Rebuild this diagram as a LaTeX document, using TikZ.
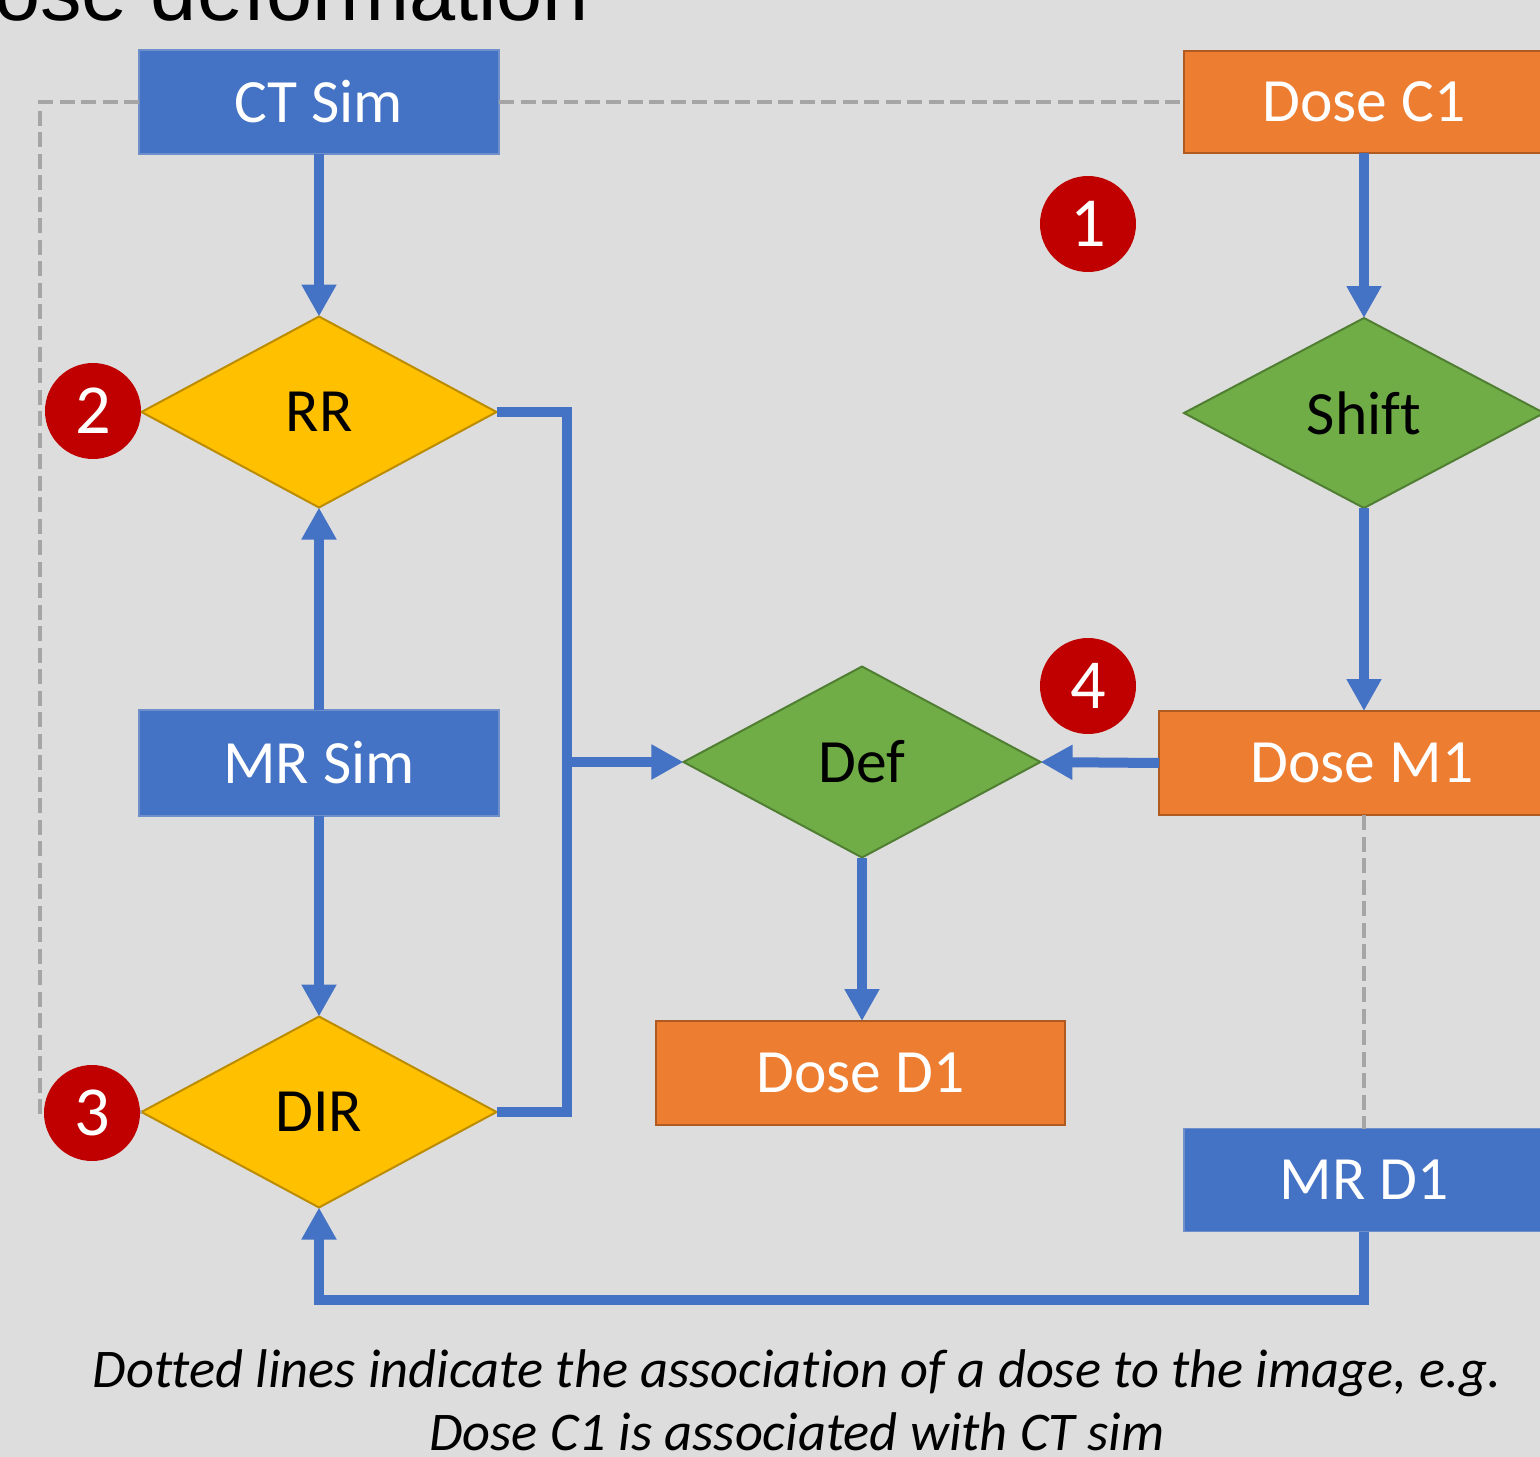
\documentclass[tikz,border=0pt]{standalone}
\usepackage{fontspec}
\setmainfont{Carlito}[Ligatures=NoCommon]
\newfontfamily\titlefont{Liberation Sans}
\usetikzlibrary{shapes.geometric,arrows.meta}
\definecolor{paper}{HTML}{DDDDDD}
\definecolor{imgblue}{HTML}{4472C4}
\definecolor{imgedge}{HTML}{6F8FCB}
\definecolor{doseorange}{HTML}{ED7D31}
\definecolor{doseedge}{HTML}{AE5A21}
\definecolor{stepgreen}{HTML}{70AD47}
\definecolor{greenedge}{HTML}{507E32}
\definecolor{regyellow}{HTML}{FFC000}
\definecolor{yellowedge}{HTML}{BC8C00}
\definecolor{badgered}{HTML}{C00000}
\definecolor{assocgray}{HTML}{A5A5A5}
\newcommand\lblfont{\fontsize{17.5}{21}\selectfont}
\begin{document}
\begin{tikzpicture}[
           image/.style={rectangle, fill=imgblue, draw=imgedge, line width=0.015cm, inner sep=0pt, outer sep=0pt, text=white, font=\lblfont},
           dose/.style={rectangle, fill=doseorange, draw=doseedge, line width=0.02cm, inner sep=0pt, outer sep=0pt, text=white, font=\lblfont},
           decide/.style={diamond, line width=0.02cm, inner sep=0pt, outer sep=0pt, minimum width=3.55cm, minimum height=1.91cm, font=\lblfont},
           badge/.style={circle, fill=badgered, inner sep=0pt, minimum size=0.96cm, text=white, font=\fontsize{20}{24}\selectfont},
           flow/.style={imgblue, line width=0.10cm, line join=miter, -{Triangle[width=0.33cm,length=0.32cm]}},
           link/.style={imgblue, line width=0.10cm, line join=miter},
           assoc/.style={assocgray, line width=0.045cm, dash pattern=on 0.15cm off 0.065cm}]
           \fill[paper] (0,0) rectangle (15.4,-14.57);
           \useasboundingbox (0,0) rectangle (15.4,-14.57);
           \node[anchor=base west, font=\titlefont\fontsize{23.6}{28}\selectfont] (title) at (-0.78,-0.20) {Dose deformation};

           \node[image, minimum width=3.60cm, minimum height=1.04cm] (ctsim) at (3.19,-1.02) {CT Sim};
           \node[image, minimum width=3.60cm, minimum height=1.06cm] (mrsim) at (3.19,-7.63) {MR Sim};
           \node[image, minimum width=3.60cm, minimum height=1.03cm] (mrd1) at (13.64,-11.80) {MR D1};
           \node[dose, minimum width=3.60cm, minimum height=1.02cm] (dosec1) at (13.64,-1.02) {Dose C1};
           \node[dose, minimum width=4.06cm, minimum height=1.04cm] (dosem1) at (13.62,-7.63) {Dose M1};
           \node[dose, minimum width=4.09cm, minimum height=1.04cm] (dosed1) at (8.605,-10.73) {Dose D1};
           \node[decide, fill=regyellow, draw=yellowedge] (rr) at (3.19,-4.12) {RR};
           \node[decide, fill=regyellow, draw=yellowedge] (dir) at (3.19,-11.12) {DIR};
           \node[decide, fill=stepgreen, draw=greenedge, minimum width=3.60cm, minimum height=1.90cm] (shift) at (13.64,-4.13) {Shift};
           \node[decide, fill=stepgreen, draw=greenedge, minimum width=3.57cm] (def) at (8.62,-7.62) {Def};

           \draw[assoc] (ctsim.west) -- (0.40,-1.02) |- (dir.west);
           \draw[assoc] (ctsim.east) -- (dosec1.west);
           \draw[assoc] (mrd1.north |- dosem1.south) -- (mrd1.north);

           \coordinate (bus) at (5.67,-7.62);
           \draw[flow] (ctsim.south) -- (rr.north);
           \draw[flow] (mrsim.north) -- (rr.south);
           \draw[flow] (mrsim.south) -- (dir.north);
           \draw[link] (rr.east) -| (bus) |- (dir.east);
           \draw[flow] (bus) -- (def.west);
           \draw[flow] (dosec1.south) -- (shift.north);
           \draw[flow] (shift.south) -- (dosem1.north -| shift.south);
           \draw[flow] (dosem1.west) -- (def.east);
           \draw[flow] (def.south) -- (dosed1.north -| def.south);
           \draw[flow] (mrd1.south) -- ++(0,-0.68) -| (dir.south);

           \node[badge] (b1) at (10.88,-2.24) {1};
           \node[badge] (b2) at (0.93,-4.11) {2};
           \node[badge] (b3) at (0.92,-11.13) {3};
           \node[badge] (b4) at (10.88,-6.86) {4};

           \node[anchor=base, font=\itshape\fontsize{15.5}{19}\selectfont] (note1) at (7.97,-13.87) {Dotted lines indicate the association of a dose to the image, e.g.};
           \node[anchor=base, font=\itshape\fontsize{15.5}{19}\selectfont] (note2) at (7.97,-14.50) {Dose C1 is associated with CT sim};
       \end{tikzpicture}
\end{document}
